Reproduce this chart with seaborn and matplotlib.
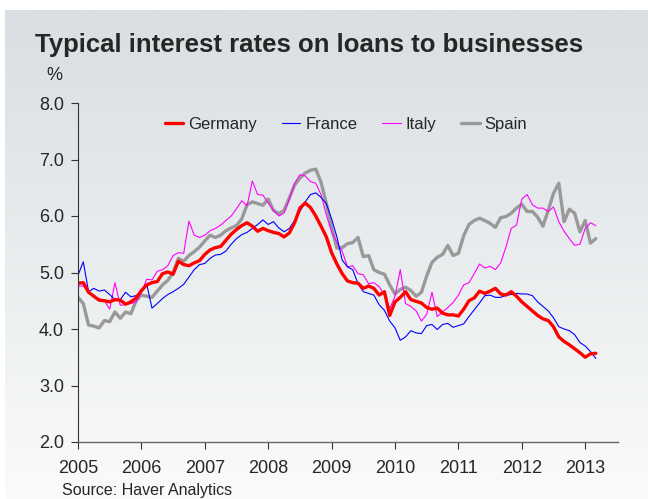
import numpy as np
import pandas as pd
import matplotlib
matplotlib.use("Agg")
import matplotlib.pyplot as plt
import seaborn as sns

# monthly rates, Jan 2005 - Mar 2013
germany = [4.81, 4.82, 4.65, 4.58, 4.51, 4.50, 4.48, 4.52, 4.51, 4.44, 4.48, 4.55,
           4.68, 4.78, 4.82, 4.84, 4.98, 5.01, 4.97, 5.20, 5.14, 5.12, 5.17, 5.21,
           5.32, 5.40, 5.44, 5.46, 5.57, 5.68, 5.76, 5.83, 5.88, 5.82, 5.73, 5.78,
           5.74, 5.71, 5.69, 5.63, 5.70, 5.88, 6.14, 6.23, 6.15, 6.00, 5.82, 5.63,
           5.35, 5.15, 4.98, 4.85, 4.82, 4.81, 4.72, 4.76, 4.72, 4.60, 4.66, 4.24,
           4.48, 4.56, 4.66, 4.52, 4.49, 4.46, 4.38, 4.35, 4.37, 4.28, 4.25, 4.25,
           4.23, 4.35, 4.50, 4.55, 4.67, 4.63, 4.67, 4.72, 4.62, 4.60, 4.66, 4.58,
           4.48, 4.40, 4.32, 4.24, 4.18, 4.15, 4.04, 3.86, 3.78, 3.72, 3.65, 3.58,
           3.50, 3.56, 3.57]
france = [4.95, 5.19, 4.66, 4.72, 4.67, 4.69, 4.61, 4.52, 4.52, 4.65, 4.57, 4.59,
          4.65, 4.80, 4.37, 4.45, 4.54, 4.61, 4.66, 4.72, 4.79, 4.92, 5.05, 5.14,
          5.16, 5.25, 5.31, 5.32, 5.38, 5.50, 5.60, 5.67, 5.71, 5.78, 5.85, 5.93,
          5.85, 5.90, 5.79, 5.72, 5.78, 5.92, 6.08, 6.25, 6.38, 6.41, 6.33, 6.22,
          5.95, 5.63, 5.22, 5.10, 5.05, 4.80, 4.66, 4.63, 4.60, 4.43, 4.33, 4.14,
          4.02, 3.80, 3.86, 3.97, 3.93, 3.92, 4.06, 4.08, 3.99, 4.08, 4.10, 4.03,
          4.06, 4.09, 4.22, 4.34, 4.46, 4.59, 4.60, 4.56, 4.56, 4.60, 4.61, 4.63,
          4.62, 4.62, 4.59, 4.48, 4.40, 4.32, 4.20, 4.04, 4.00, 3.97, 3.90, 3.76,
          3.70, 3.60, 3.48]
italy = [4.76, 4.76, 4.66, 4.56, 4.54, 4.50, 4.35, 4.82, 4.42, 4.43, 4.45, 4.48,
         4.65, 4.88, 4.87, 5.02, 5.05, 5.12, 5.30, 5.35, 5.34, 5.91, 5.66, 5.62,
         5.66, 5.74, 5.78, 5.84, 5.92, 6.00, 6.13, 6.27, 6.18, 6.62, 6.38, 6.37,
         6.23, 6.10, 6.00, 6.05, 6.30, 6.58, 6.73, 6.71, 6.61, 6.58, 6.38, 6.02,
         5.72, 5.53, 5.38, 5.10, 5.12, 4.98, 4.96, 4.80, 4.82, 4.75, 4.60, 4.36,
         4.58, 5.05, 4.45, 4.40, 4.32, 4.14, 4.26, 4.65, 4.22, 4.30, 4.38, 4.47,
         4.60, 4.78, 4.82, 4.98, 5.15, 5.08, 5.11, 5.05, 5.17, 5.45, 5.78, 5.84,
         6.30, 6.38, 6.20, 6.14, 6.14, 6.08, 6.16, 5.90, 5.73, 5.60, 5.48, 5.50,
         5.78, 5.88, 5.83]
spain = [4.56, 4.45, 4.07, 4.05, 4.02, 4.15, 4.13, 4.30, 4.19, 4.30, 4.27, 4.50,
         4.60, 4.58, 4.56, 4.67, 4.78, 4.86, 5.00, 5.25, 5.20, 5.30, 5.37, 5.45,
         5.56, 5.66, 5.62, 5.66, 5.74, 5.79, 5.83, 5.95, 6.20, 6.25, 6.22, 6.19,
         6.30, 6.10, 6.04, 6.10, 6.32, 6.55, 6.67, 6.76, 6.81, 6.83, 6.60, 6.22,
         5.80, 5.43, 5.44, 5.51, 5.53, 5.62, 5.28, 5.30, 5.05, 5.00, 4.97, 4.78,
         4.62, 4.70, 4.74, 4.68, 4.58, 4.65, 4.94, 5.18, 5.27, 5.32, 5.48, 5.30,
         5.34, 5.65, 5.85, 5.92, 5.96, 5.92, 5.87, 5.80, 5.97, 5.99, 6.05, 6.14,
         6.21, 6.08, 6.08, 5.98, 5.82, 6.10, 6.40, 6.58, 5.90, 6.12, 6.05, 5.72,
         5.92, 5.52, 5.60]

years = [2005, 2006, 2007, 2008, 2009, 2010, 2011, 2012, 2013]
yticks = [2.0, 3.0, 4.0, 5.0, 6.0, 7.0, 8.0]

t = 2005 + np.arange(len(germany)) / 12.0

df = pd.DataFrame({"t": t, "Germany": germany, "France": france,
                   "Italy": italy, "Spain": spain})

sns.set_style("ticks")
plt.rcParams["font.family"] = ["Liberation Sans", "DejaVu Sans"]

fig = plt.figure(figsize=(6.48, 4.99), dpi=100)
fig.patch.set_facecolor("white")

# gradient background panel
bg = fig.add_axes([5 / 648, 0, 1, 489 / 499], zorder=-10)
grad = np.linspace(0, 1, 256).reshape(-1, 1)
top = np.array([216, 222, 225]) / 255
bot = np.array([250, 251, 251]) / 255
img = top + (bot - top) * grad[:, :, None]
bg.imshow(img, aspect="auto", extent=[0, 1, 0, 1])
bg.axis("off")

ax = fig.add_axes([78 / 648, 57 / 499, 540 / 648, 339 / 499])
ax.patch.set_alpha(0)

styles = [("Spain", "#999999", 2.4), ("Italy", "#ff00ff", 0.8),
          ("France", "#0000ff", 0.8), ("Germany", "#ff0000", 2.4)]
for name, col, lw in styles:
    sns.lineplot(data=df, x="t", y=name, color=col, linewidth=lw, label=name, ax=ax)

ax.set_xlim(2005, 2005 + 540 / 63.4)
ax.set_ylim(2.0, 8.0)
ax.set_xticks(years)
ax.set_xticklabels([str(y) for y in years], fontsize=13)
ax.set_yticks(yticks)
ax.set_yticklabels(["%.1f" % v for v in yticks], fontsize=13)
ax.set_xlabel("")
ax.set_ylabel("")
ax.tick_params(axis="both", direction="out", length=5, width=0.8, color="#333333")
ax.tick_params(axis="x", pad=8)
ax.tick_params(axis="y", pad=5)
sns.despine(ax=ax)
ax.spines["left"].set_color("#333333")
ax.spines["bottom"].set_color("#666666")
ax.spines["left"].set_linewidth(0.8)
ax.spines["bottom"].set_linewidth(1.0)

h, l = ax.get_legend_handles_labels()
order = [l.index(n) for n in ["Germany", "France", "Italy", "Spain"]]
ax.legend([h[i] for i in order], [l[i] for i in order], ncol=4, frameon=False,
          loc="center left", bbox_to_anchor=(0.133, 0.938), fontsize=12,
          handlelength=1.1, handletextpad=0.3, columnspacing=1.5)

fig.text(35 / 648, 1 - 45 / 499, "Typical interest rates on loans to businesses",
         fontsize=18.5, fontweight="bold", va="center", ha="left")
fig.text(46 / 648, 1 - 75 / 499, "%", fontsize=13, va="center", ha="left")
fig.text(62 / 648, 1 - 491 / 499, "Source: Haver Analytics", fontsize=11.5,
         va="center", ha="left")

fig.savefig("out.png", dpi=100)
